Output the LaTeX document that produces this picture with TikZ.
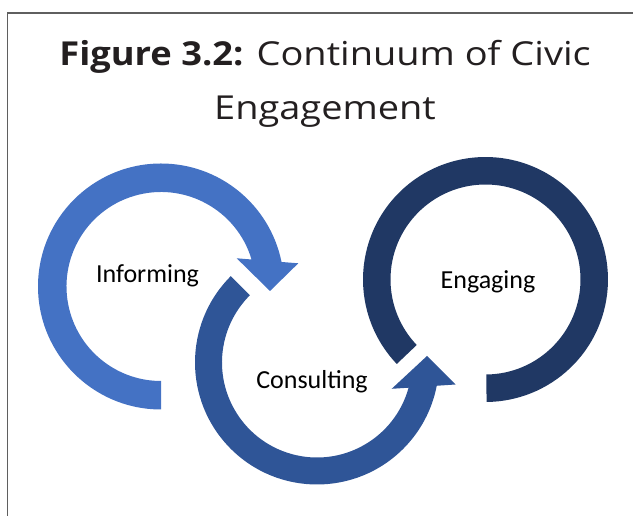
\documentclass[tikz,border=0pt]{standalone}
\usepackage{fontspec}
\setmainfont{Open Sans}
\newfontfamily\labelfont{Carlito}
\newfontfamily\titlereg[FakeStretch=1.15]{Open Sans}
\newfontfamily\titlebold[FakeStretch=1.10]{Open Sans}
\definecolor{ringA}{HTML}{4472C4}
\definecolor{ringB}{HTML}{2F5597}
\definecolor{ringC}{HTML}{203864}
\definecolor{framegray}{HTML}{5F5F5F}
\definecolor{titlecol}{HTML}{231F20}
\begin{document}
\begin{tikzpicture}[x=1pt,y=1pt,
  lbl/.style={font=\labelfont\fontsize{26}{30}\selectfont, text=black, inner sep=0pt, anchor=base},
  ttl/.style={font=\titlereg\fontsize{33}{40}\selectfont, text=titlecol, inner sep=0pt, anchor=base},
  framestyle/.style={draw=framegray, line width=1.5pt}]
\useasboundingbox (0,0) rectangle (633,516);
% frame
\coordinate (fTR) at (633,503);
\coordinate (fTL) at (7.5,503);
\coordinate (fBL) at (7.5,0);
\draw[framestyle] (fTR) -- (fTL) -- (fBL);
% ring 1: Informing
\coordinate (c1) at (161,229.5);
\fill[ringA] ([shift={(c1)}]270:123) arc[start angle=270,end angle=11.5,radius=123]
  -- (298.3,252.7) -- (270,225) -- (236.7,257.7)
  -- ([shift={(c1)}]16.6:94.5) arc[start angle=16.6,end angle=270,radius=94.5] -- cycle;
% ring 2: Consulting
\coordinate (c2) at (317,153.5);
\fill[ringB] ([shift={(c2)}]135:122) arc[start angle=135,end angle=349,radius=122]
  -- (455.5,131.5) -- (427,160) -- (391.7,127.2)
  -- ([shift={(c2)}]344.6:95) arc[start angle=344.6,end angle=135,radius=95] -- cycle;
% ring 3: Engaging
\coordinate (c3) at (485.5,236.5);
\fill[ringC] ([shift={(c3)}]223.6:122.5) arc[start angle=223.6,end angle=-89.5,radius=122.5]
  -- ([shift={(c3)}]-89.5:95) arc[start angle=-89.5,end angle=223.6,radius=95] -- cycle;
% labels
\node[lbl] (inf) at (147.5,233) {Informing};
\node[lbl] (con) at (312,127.7) {Consulting};
\node[lbl] (eng) at (488,227.7) {Engaging};
% title
\node[ttl] (title1) at (325,450) {{\titlebold\bfseries Figure 3.2:} Continuum of Civic};
\node[ttl] (title2) at (325,396) {Engagement};
\end{tikzpicture}
\end{document}
